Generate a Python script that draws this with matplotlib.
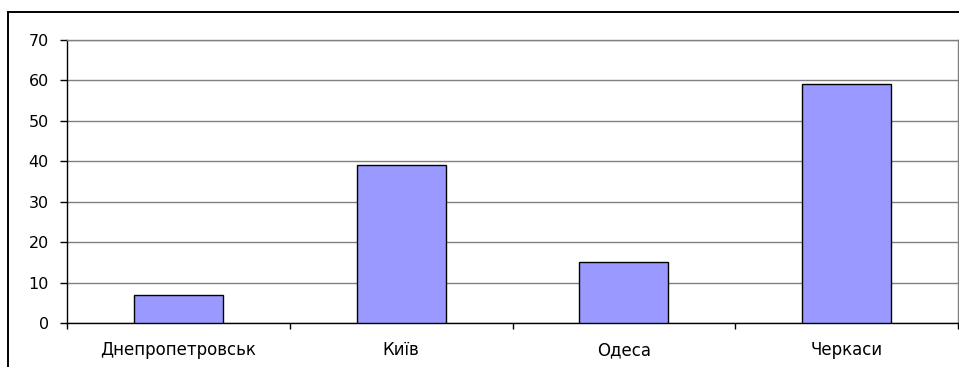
import matplotlib
matplotlib.use("Agg")
import matplotlib.pyplot as plt
from matplotlib.lines import Line2D
from matplotlib.ticker import FixedLocator, NullFormatter

cities = ["Днепропетровськ", "Київ", "Одеса", "Черкаси"]
values = [7, 39, 15, 59]
y_ticks = [0, 10, 20, 30, 40, 50, 60, 70]

plt.rcParams["font.family"] = ["DejaVu Sans"]

W, H = 959, 367
fig = plt.figure(figsize=(W / 100, H / 100), dpi=100)
ax = fig.add_axes([67 / W, 1 - 323 / H, (958 - 67) / W, (323 - 40) / H])

x = list(range(len(cities)))
ax.bar(x, values, width=0.4, color="#9999FF", edgecolor="black", linewidth=1.0, zorder=3)

ax.set_xlim(-0.5, len(cities) - 0.5)
ax.set_ylim(0, 70)
ax.set_yticks(y_ticks)
ax.grid(axis="y", color="#808080", linewidth=1.0, zorder=0)

ax.set_xticks(x)
ax.set_xticklabels(cities, fontsize=12)
ax.tick_params(axis="x", which="major", length=0, pad=13)
ax.xaxis.set_minor_locator(FixedLocator([i - 0.5 for i in range(len(cities) + 1)]))
ax.xaxis.set_minor_formatter(NullFormatter())
ax.tick_params(axis="x", which="minor", length=4, width=1, color="black")
ax.tick_params(axis="y", length=5, width=1, labelsize=11.5, pad=8)

ax.spines["left"].set_color("black")
ax.spines["bottom"].set_color("black")
ax.spines["top"].set_color("#808080")
ax.spines["right"].set_color("#808080")
for s in ax.spines.values():
    s.set_linewidth(1.0)

# Outer chart frame (top and left edges)
fig.add_artist(Line2D([8 / W, 1.0], [1 - 12 / H, 1 - 12 / H], transform=fig.transFigure,
                      color="black", linewidth=1.4))
fig.add_artist(Line2D([8 / W, 8 / W], [1 - 12 / H, 0.0], transform=fig.transFigure,
                      color="black", linewidth=1.4))

fig.savefig("out.png", dpi=100)
